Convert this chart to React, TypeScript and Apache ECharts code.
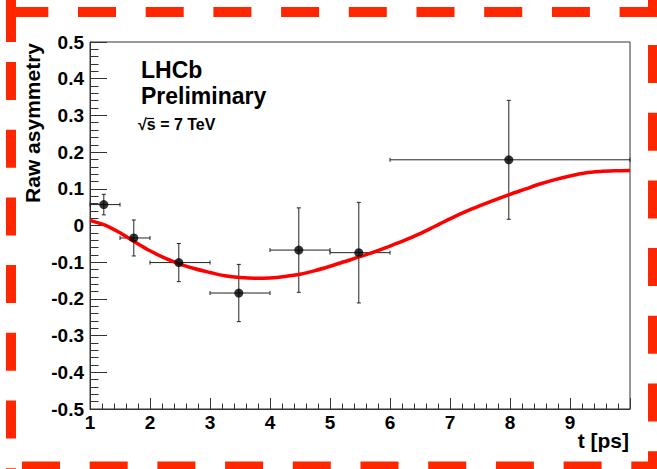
import React, { useEffect, useRef } from "react";
import * as echarts from "echarts";

// Measured raw asymmetry per decay-time bin
const binLow = [1, 1.5, 2, 3, 4, 5, 6];
const binHigh = [1.5, 2, 3, 4, 5, 6, 10];
const tMean = [1.23, 1.73, 2.48, 3.48, 4.48, 5.48, 7.98];
const asymmetry = [0.057, -0.034, -0.101, -0.184, -0.067, -0.074, 0.179];
const asymmetryErr = [0.028, 0.049, 0.052, 0.078, 0.115, 0.137, 0.162];

// Fitted oscillation curve, sampled every 0.25 ps
const fitT = [
  1, 1.25, 1.5, 1.75, 2, 2.25, 2.5, 2.75, 3, 3.25, 3.5, 3.75, 4, 4.25, 4.5, 4.75, 5, 5.25, 5.5,
  5.75, 6, 6.25, 6.5, 6.75, 7, 7.25, 7.5, 7.75, 8, 8.25, 8.5, 8.75, 9, 9.25, 9.5, 9.75, 10,
];
const fitA = [
  0.014, 0.001, -0.02, -0.045, -0.069, -0.089, -0.105, -0.118, -0.128, -0.137, -0.142, -0.144,
  -0.143, -0.139, -0.133, -0.123, -0.111, -0.098, -0.085, -0.071, -0.056, -0.04, -0.022, -0.002,
  0.018, 0.037, 0.054, 0.07, 0.085, 0.099, 0.113, 0.125, 0.135, 0.143, 0.147, 0.149, 0.15,
];

// Axis ranges and labels
const tMin = 1;
const tMax = 10;
const tStep = 1;
const aMin = -0.5;
const aMax = 0.5;
const aStep = 0.1;
const xTitle = "t [ps]";
const yTitle = "Raw asymmetry";
const experimentLabel = "LHCb";
const statusLabel = "Preliminary";
const energyLabel = "√s = 7 TeV";

const FONT = "'Liberation Sans', Arial, Helvetica, sans-serif";
const AXIS = "#333";
const BAR = "#222";
const DASH_RED = "#ff2600";

export default function App() {
  const ref = useRef<HTMLDivElement>(null);

  useEffect(() => {
    if (!ref.current) return;
    const chart = echarts.init(ref.current, undefined, { renderer: "svg" });

    const points = tMean.map((t, i) => [t, asymmetry[i], binLow[i], binHigh[i], asymmetryErr[i]]);
    const fit = fitT.map((t, i) => [t, fitA[i]]);

    const dash = (x1: number, y1: number, x2: number, y2: number) => ({
      type: "line",
      silent: true,
      z: 100,
      shape: { x1, y1, x2, y2 },
      style: { stroke: DASH_RED, lineWidth: 10, lineDash: [38, 29.7], fill: null },
    });

    chart.setOption({
      animation: false,
      backgroundColor: "#fff",
      grid: {
        left: 90,
        right: 27,
        top: 42,
        bottom: 60,
        show: true,
        borderColor: AXIS,
        borderWidth: 1,
        backgroundColor: "transparent",
      },
      xAxis: {
        type: "value",
        min: tMin,
        max: tMax,
        interval: tStep,
        axisLine: { show: true, onZero: false, lineStyle: { color: AXIS, width: 1 } },
        axisTick: { show: true, inside: true, length: 11, lineStyle: { color: AXIS, width: 1 } },
        minorTick: { show: true, splitNumber: 5, length: 5.5, lineStyle: { color: AXIS, width: 1 } },
        splitLine: { show: false },
        minorSplitLine: { show: false },
        axisLabel: {
          show: true,
          margin: 4,
          color: "#000",
          fontFamily: FONT,
          fontWeight: "bold",
          fontSize: 19,
          showMinLabel: true,
          showMaxLabel: false,
          formatter: (v: number) => (v >= tMax ? "" : String(v)),
        },
      },
      yAxis: {
        type: "value",
        min: aMin,
        max: aMax,
        interval: aStep,
        axisLine: { show: true, onZero: false, lineStyle: { color: AXIS, width: 1 } },
        axisTick: { show: true, inside: true, length: 17, lineStyle: { color: AXIS, width: 1 } },
        minorTick: { show: true, splitNumber: 5, length: 8.5, lineStyle: { color: AXIS, width: 1 } },
        splitLine: { show: false },
        minorSplitLine: { show: false },
        axisLabel: {
          show: true,
          margin: 6,
          color: "#000",
          fontFamily: FONT,
          fontWeight: "bold",
          fontSize: 19,
          showMinLabel: true,
          showMaxLabel: true,
          formatter: (v: number) => (Math.abs(v) < 1e-9 ? "0" : v.toFixed(1)),
        },
      },
      series: [
        {
          type: "custom",
          name: "errors",
          z: 2,
          data: points,
          encode: { x: 0, y: 1 },
          renderItem: (_params: any, api: any) => {
            const t = api.value(0);
            const a = api.value(1);
            const lo = api.value(2);
            const hi = api.value(3);
            const e = api.value(4);
            const pLo = api.coord([lo, a]);
            const pHi = api.coord([hi, a]);
            const pTop = api.coord([t, a + e]);
            const pBot = api.coord([t, a - e]);
            const cap = 2;
            const style = { stroke: BAR, lineWidth: 1 };
            const seg = (x1: number, y1: number, x2: number, y2: number) => ({
              type: "line",
              shape: { x1, y1, x2, y2 },
              style,
            });
            return {
              type: "group",
              children: [
                seg(pLo[0], pLo[1], pHi[0], pHi[1]),
                seg(pLo[0], pLo[1] - cap, pLo[0], pLo[1] + cap),
                seg(pHi[0], pHi[1] - cap, pHi[0], pHi[1] + cap),
                seg(pTop[0], pTop[1], pBot[0], pBot[1]),
                seg(pTop[0] - cap, pTop[1], pTop[0] + cap, pTop[1]),
                seg(pBot[0] - cap, pBot[1], pBot[0] + cap, pBot[1]),
              ],
            };
          },
        },
        {
          type: "line",
          name: "fit",
          z: 3,
          data: fit,
          smooth: 0.3,
          showSymbol: false,
          symbol: "none",
          lineStyle: { color: "#ff0000", width: 3.5 },
        },
        {
          type: "scatter",
          name: "data",
          z: 4,
          data: points.map((p) => [p[0], p[1]]),
          symbol: "circle",
          symbolSize: 9,
          itemStyle: { color: "#000" },
        },
      ],
      graphic: [
        {
          type: "text",
          left: 141,
          top: 58,
          z: 50,
          style: { text: experimentLabel, fontFamily: FONT, fontWeight: "bold", fontSize: 23, fill: "#000" },
        },
        {
          type: "text",
          left: 141,
          top: 84,
          z: 50,
          style: { text: statusLabel, fontFamily: FONT, fontWeight: "bold", fontSize: 23, fill: "#000" },
        },
        {
          type: "text",
          left: 138,
          top: 116,
          z: 50,
          style: { text: energyLabel, fontFamily: FONT, fontWeight: "bold", fontSize: 16, fill: "#000" },
        },
        {
          type: "line",
          silent: true,
          z: 50,
          shape: { x1: 146.5, y1: 118.5, x2: 154, y2: 118.5 },
          style: { stroke: "#000", lineWidth: 1.2 },
        },
        {
          type: "text",
          x: 32,
          y: 43,
          rotation: Math.PI / 2,
          z: 50,
          style: {
            text: yTitle,
            fontFamily: FONT,
            fontWeight: "bold",
            fontSize: 21,
            fill: "#000",
            align: "right",
            verticalAlign: "middle",
          },
        },
        {
          type: "text",
          x: 629,
          y: 430,
          z: 50,
          style: {
            text: xTitle,
            fontFamily: FONT,
            fontWeight: "bold",
            fontSize: 21,
            fill: "#000",
            align: "right",
            verticalAlign: "top",
          },
        },
        // dashed red frame
        dash(-57.4, 12, 720, 12),
        dash(11, -73.4, 11, 520),
        dash(-45.7, 466.5, 720, 466.5),
        dash(653, -22.7, 653, 520),
        {
          type: "rect",
          silent: true,
          z: 100,
          shape: { x: 6, y: 7, width: 10, height: 35 },
          style: { fill: DASH_RED },
        },
        {
          type: "rect",
          silent: true,
          z: 100,
          shape: { x: 6, y: 7, width: 6, height: 10 },
          style: { fill: DASH_RED },
        },
      ],
    });

    return () => chart.dispose();
  }, []);

  return (
    <div
      ref={ref}
      style={{ position: "fixed", left: 0, top: 0, width: 657, height: 469, background: "#fff" }}
    />
  );
}
